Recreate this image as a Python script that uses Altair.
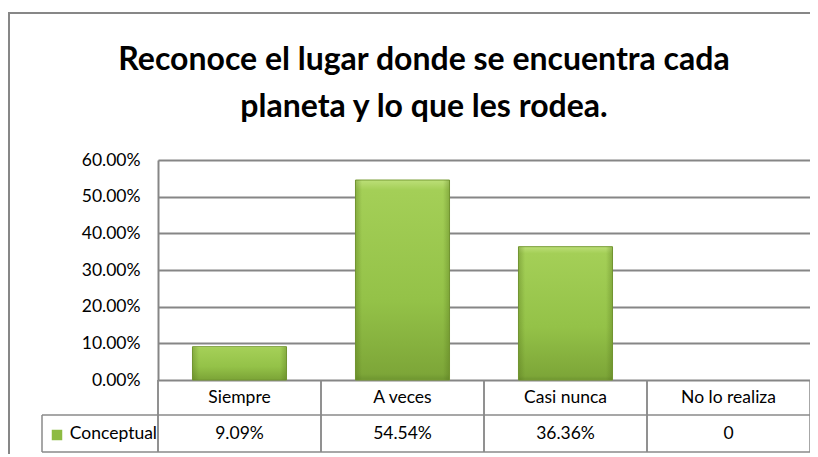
import altair as alt
import pandas as pd

# ---- data ----
categories = ["Siempre", "A veces", "Casi nunca", "No lo realiza"]
values = [0.0909, 0.5454, 0.3636, 0.0]
table_labels = ["9.09%", "54.54%", "36.36%", "0"]
series_name = ["Conceptual"]
title_lines = ["Reconoce el lugar donde se encuentra cada", "planeta y lo que les rodea."]
y_ticks = [0, 0.1, 0.2, 0.3, 0.4, 0.5, 0.6]

df = pd.DataFrame({"cat": categories, "value": values, "label": table_labels})
sdf = pd.DataFrame({"s": series_name})
tdf = pd.DataFrame({"t": ["\n".join(title_lines)]})

FONT = "Lato"
GRID = "#868686"
LINE = "#8a8a8a"
GREEN = "#8DBB42"

x_scale = alt.Scale(domain=categories, paddingInner=0, paddingOuter=0)
x_enc = alt.X("cat:N", sort=categories, scale=x_scale, axis=None)
y_scale = alt.Scale(domain=[0, 0.6])
y_axis = alt.Axis(
    values=y_ticks, format=".2%", title=None, ticks=False, labelOverlap=False,
    labelFont=FONT, labelFontSize=17.5, labelColor="black", labelPadding=18,
    domain=True, domainColor=GRID, domainWidth=2,
    grid=True, gridColor=GRID, gridWidth=2,
)
y_enc = alt.Y("value:Q", scale=y_scale, axis=y_axis)

base = alt.Chart(df)

gradient = alt.LinearGradient(
    gradient="linear", x1=0, x2=0, y1=0, y2=1,
    stops=[
        alt.GradientStop(color="#BCDF78", offset=0),
        alt.GradientStop(color="#A4CF57", offset=0.05),
        alt.GradientStop(color="#94C248", offset=0.6),
        alt.GradientStop(color="#7DA638", offset=0.97),
        alt.GradientStop(color="#6E9530", offset=1),
    ],
)
side_shade = alt.LinearGradient(
    gradient="linear", x1=0, x2=1, y1=0, y2=0,
    stops=[
        alt.GradientStop(color="rgba(80,110,25,0.35)", offset=0),
        alt.GradientStop(color="rgba(80,110,25,0)", offset=0.07),
        alt.GradientStop(color="rgba(80,110,25,0)", offset=0.93),
        alt.GradientStop(color="rgba(80,110,25,0.35)", offset=1),
    ],
)

bars = base.transform_filter("datum.value > 0").mark_bar(
    color=gradient, stroke="#789C35", strokeWidth=1, width=alt.RelativeBandSize(0.577)
).encode(x=x_enc, y=y_enc)
bars_shade = base.transform_filter("datum.value > 0").mark_bar(
    color=side_shade, width=alt.RelativeBandSize(0.577)
).encode(x=x_enc, y=y_enc)

# data table: vertical separators at category band edges
vlines_start = base.mark_rule(color=LINE, strokeWidth=1.5).encode(
    x=alt.X("cat:N", sort=categories, scale=x_scale, axis=None, bandPosition=0),
    y=alt.value(220), y2=alt.value(292),
)
vlines_end = base.mark_rule(color=LINE, strokeWidth=1.5).encode(
    x=alt.X("cat:N", sort=categories, scale=x_scale, axis=None, bandPosition=1),
    y=alt.value(220), y2=alt.value(292),
)
hline_mid = alt.Chart(sdf).mark_rule(color=LINE, strokeWidth=1.5).encode(
    x=alt.value(-116), x2=alt.value(652), y=alt.value(255))
hline_bot = alt.Chart(sdf).mark_rule(color=LINE, strokeWidth=1.5).encode(
    x=alt.value(-116), x2=alt.value(652), y=alt.value(292))
vline_left = alt.Chart(sdf).mark_rule(color=LINE, strokeWidth=1.5).encode(
    x=alt.value(-116), y=alt.value(255), y2=alt.value(292))
vline_axis = alt.Chart(sdf).mark_rule(color=LINE, strokeWidth=1.5).encode(
    x=alt.value(0), y=alt.value(220), y2=alt.value(292))

cat_text = base.mark_text(font=FONT, fontSize=17.5, color="black").encode(
    x=x_enc, y=alt.value(237.5), text="cat:N")
val_text = base.mark_text(font=FONT, fontSize=17.5, color="black").encode(
    x=x_enc, y=alt.value(274), text="label:N")

series_text = alt.Chart(sdf).mark_text(font=FONT, fontSize=17.5, color="black", align="right").encode(
    x=alt.value(-1), y=alt.value(274), text="s:N")
legend_key = alt.Chart(sdf).mark_square(size=110, color=GREEN, opacity=1).encode(
    x=alt.value(-101), y=alt.value(275))

title_text = alt.Chart(tdf).mark_text(
    font=FONT, fontSize=32, fontWeight="bold", color="black",
    align="center", baseline="alphabetic", lineBreak="\n", lineHeight=47,
).encode(x=alt.value(266), y=alt.value(-90), text="t:N")

# outer chart border
border_left = alt.Chart(sdf).mark_rule(color="#878787", strokeWidth=2).encode(
    x=alt.value(-149), y=alt.value(-148), y2=alt.value(320))
border_top = alt.Chart(sdf).mark_rule(color="#878787", strokeWidth=2).encode(
    x=alt.value(-150), x2=alt.value(700), y=alt.value(-147))

chart = alt.layer(
    bars, bars_shade, vlines_start, vlines_end, hline_mid, hline_bot, vline_left, vline_axis,
    cat_text, val_text, series_text, legend_key, title_text, border_left, border_top,
).properties(
    width=652, height=220,
    padding={"left": 150, "top": 152, "right": 0, "bottom": 74},
    autosize=alt.AutoSizeParams(type="none"),
).configure_view(stroke=None).configure(background="white")

chart.save("out.html", embed_options={"renderer": "svg", "actions": False})
